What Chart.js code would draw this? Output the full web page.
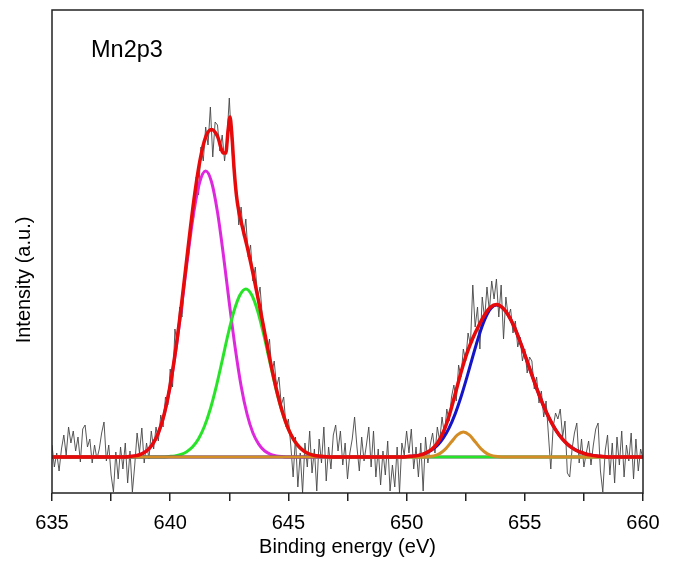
<!DOCTYPE html>
<html>
<head>
<meta charset="utf-8">
<script src="https://cdn.jsdelivr.net/npm/chart.js@4.4.1/dist/chart.umd.min.js"></script>
<style>
  body { margin: 0; background: #fff; }
  #grafico { display: block; }
</style>
</head>
<body>
<canvas id="grafico" width="675" height="563"></canvas>
<script>
/**
 * Datos del espectro XPS Mn2p3 (intensidad en unidades arbitrarias, linea base = 0)
 */

// Espectro medido: una lectura cada 0.1 eV desde 635 eV hasta 660 eV
const medidoInicio = 635;
const medidoPaso = 0.1;
const medidoI = [
  12, -10, 4, -14, 8, 22, 2, 30, 14, 26,
  6, 20, -5, 28, 32, 10, 18, -6, 12, -2,
  8, 24, 35, -4, 12, -18, -35, 5, -22, 10,
  -12, 14, -26, 6, -35, -8, 24, 4, 29, -6,
  14, -2, 26, 8, 30, 16, 42, 30, 60, 52,
  88, 70, 128, 112, 150, 140, 172, 190, 205, 230,
  240, 280, 262, 310, 296, 330, 312, 350, 300, 335,
  332, 306, 322, 296, 318, 359, 312, 280, 270, 232,
  250, 220, 238, 200, 212, 176, 190, 158, 170, 140,
  128, 104, 118, 84, 96, 70, 80, 52, 60, 30,
  38, 12, -20, 20, -30, 4, -36, 14, -10, 26,
  -16, 8, -34, 18, -6, 30, -24, 10, -12, 22,
  32, 6, 26, -8, 14, -22, 4, 18, 40, 10,
  -14, 20, -4, 12, 30, -10, 26, -20, 8, -28,
  6, -18, 16, -34, -8, -30, 10, -36, 14, 2,
  26, 4, 28, -12, 10, -20, 14, -34, 20, -6,
  12, 24, 4, 30, 16, 40, 22, 48, 36, 60,
  72, 56, 92, 80, 108, 96, 124, 112, 172, 130,
  150, 108, 160, 138, 170, 146, 176, 158, 178, 140,
  172, 118, 160, 140, 148, 124, 136, 110, 120, 96,
  108, 84, 100, 96, 68, 80, 54, 66, 40, 56,
  22, -12, 30, 44, 38, 48, 20, 36, -16, -20,
  8, 24, 34, -6, 18, -10, 4, 16, -8, 12,
  28, 34, -14, -35, 6, 22, -18, 14, -26, 20,
  -8, 26, -20, 12, -4, 24, -22, 18, -14, 8,
  -2
];

// Componente magenta (~641.5 eV)
const magentaE = [635, 638, 638.25, 638.5, 638.75, 639, 639.25, 639.5, 639.75, 640, 640.25, 640.5, 640.75, 641, 641.25, 641.5, 641.75, 642, 642.25, 642.5, 642.75, 643, 643.25, 643.5, 643.75, 644, 644.25, 644.5, 644.75, 645, 660];
const magentaI = [0, 0, 0.4, 1.1, 2.7, 6, 12.6, 24, 43, 71, 109, 154, 202, 245, 275, 286, 275, 245, 202, 154, 109, 71, 43, 24, 12.6, 6, 2.7, 1.1, 0.4, 0, 0];

// Componente verde (~643.2 eV)
const verdeE = [635, 639.7, 639.95, 640.2, 640.45, 640.7, 640.95, 641.2, 641.45, 641.7, 641.95, 642.2, 642.45, 642.7, 642.95, 643.2, 643.45, 643.7, 643.95, 644.2, 644.45, 644.7, 644.95, 645.2, 645.45, 645.7, 645.95, 646.2, 646.45, 646.7, 660];
const verdeI = [0, 0, 0.5, 1.1, 2.5, 5.3, 10.2, 18.3, 30.8, 48.3, 70.7, 96.5, 123, 146, 162, 168, 162, 146, 123, 96.5, 70.7, 48.3, 30.8, 18.3, 10.2, 5.3, 2.5, 1.1, 0.5, 0, 0];

// Componente azul (~653.8 eV)
const azulE = [635, 649.8, 650.05, 650.3, 650.55, 650.8, 651.05, 651.3, 651.55, 651.8, 652.05, 652.3, 652.55, 652.8, 653.05, 653.3, 653.55, 653.8, 654.05, 654.3, 654.55, 654.8, 655.05, 655.3, 655.55, 655.8, 656.05, 656.3, 656.55, 656.8, 657.05, 657.3, 657.55, 657.8, 658.05, 658.3, 658.55, 660];
const azulI = [0, 0, 0.5, 1.0, 1.9, 3.7, 6.7, 11.5, 18.8, 29.1, 42.9, 60.0, 79.7, 100.5, 120.5, 137.1, 148.1, 152, 149.4, 141.9, 130.3, 115.5, 99.0, 82.0, 65.6, 50.7, 37.9, 27.4, 19.1, 12.9, 8.4, 5.3, 3.2, 1.9, 1.1, 0.6, 0, 0];

// Componente naranja (~652.4 eV, satelite)
const naranjaE = [635, 650.65, 650.9, 651.15, 651.4, 651.65, 651.9, 652.15, 652.4, 652.65, 652.9, 653.15, 653.4, 653.65, 653.9, 654.15, 660];
const naranjaI = [0, 0, 0.3, 1.1, 3.4, 8.1, 15.2, 22.1, 25, 22.1, 15.2, 8.1, 3.4, 1.1, 0.3, 0, 0];

// Ajuste total (rojo)
const ajusteE = [635, 638, 638.25, 638.5, 638.75, 639, 639.25, 639.5, 639.75, 640, 640.25, 640.5, 640.75, 641, 641.25, 641.5, 641.75, 642, 642.25, 642.35, 642.45, 642.53, 642.6, 642.7, 642.8, 642.9, 643, 643.25, 643.5, 643.75, 644, 644.25, 644.5, 644.75, 645, 645.25, 645.5, 645.75, 646, 646.25, 646.5, 646.75, 647, 649.8, 650.05, 650.3, 650.55, 650.8, 651.05, 651.3, 651.55, 651.8, 652.05, 652.3, 652.55, 652.8, 653.05, 653.3, 653.55, 653.8, 654.05, 654.3, 654.55, 654.8, 655.05, 655.3, 655.55, 655.8, 656.05, 656.3, 656.55, 656.8, 657.05, 657.3, 657.55, 657.8, 658.05, 658.3, 658.55, 660];
const ajusteI = [0, 0, 0.4, 1.1, 2.7, 6, 12.6, 24.1, 43.2, 71.6, 110.4, 157, 208, 256.5, 295.4, 319.9, 327.4, 320.7, 303.9, 304, 327, 340, 325, 289, 262, 246, 235.3, 210.8, 183.8, 154.7, 123.8, 93.9, 67, 44.8, 27.9, 16.4, 9, 4.6, 2.2, 1, 0.4, 0.1, 0, 0, 0.5, 1.0, 1.9, 3.9, 7.4, 13.7, 24.7, 41.3, 62.5, 84.5, 103.6, 118.7, 131.2, 142.0, 149.9, 152.5, 149.5, 141.9, 130.3, 115.5, 99.0, 82.0, 65.6, 50.7, 37.9, 27.4, 19.1, 12.9, 8.4, 5.3, 3.2, 1.9, 1.1, 0.6, 0, 0];

// Ejes
const ejeXMin = 635;
const ejeXMax = 660;
const ejeYMin = -36;
const ejeYMax = 447;

const fuente = '"Liberation Sans", Arial, Helvetica, sans-serif';

function puntos(xs, ys) {
  return ys.map((y, i) => ({ x: xs[i], y: y }));
}

function puntosMedidos() {
  return medidoI.map((y, i) => ({ x: +(medidoInicio + i * medidoPaso).toFixed(2), y: y }));
}

function serie(etiqueta, datos, color, ancho, orden) {
  return {
    label: etiqueta,
    data: datos,
    showLine: true,
    borderColor: color,
    borderWidth: ancho,
    pointRadius: 0,
    fill: false,
    cubicInterpolationMode: "monotone",
    order: orden,
  };
}

/*Textos y marco del grafico*/
const decoracion = {
  id: "decoracion",
  afterDatasetsDraw(chart) {
    const { ctx, chartArea: a } = chart;
    ctx.save();
    ctx.strokeStyle = "#222";
    ctx.lineWidth = 1.5;
    ctx.strokeRect(a.left, a.top, a.right - a.left, a.bottom - a.top);

    ctx.fillStyle = "#000";
    ctx.textBaseline = "alphabetic";
    ctx.font = "23.5px " + fuente;
    ctx.fillText("Mn2p3", 91, 57);

    ctx.translate(30, 280);
    ctx.rotate(-Math.PI / 2);
    ctx.textAlign = "center";
    ctx.font = "20px " + fuente;
    ctx.fillText("Intensity (a.u.)", 0, 0);
    ctx.restore();
  },
};

const medido = serie("Medido", puntosMedidos(), "rgba(70,70,70,0.9)", 1, 10);
medido.cubicInterpolationMode = "default";
medido.tension = 0;

new Chart(document.getElementById("grafico"), {
  type: "scatter",
  data: {
    datasets: [
      medido,
      serie("Magenta", puntos(magentaE, magentaI), "rgb(222,40,222)", 3, 6),
      serie("Verde", puntos(verdeE, verdeI), "rgb(40,228,40)", 3, 5),
      serie("Azul", puntos(azulE, azulI), "rgb(20,20,200)", 3, 4),
      serie("Naranja", puntos(naranjaE, naranjaI), "rgb(212,140,36)", 3, 3),
      serie("Ajuste", puntos(ajusteE, ajusteI), "rgb(232,10,10)", 3.5, 1),
    ],
  },
  options: {
    responsive: false,
    animation: false,
    layout: { padding: { top: 10, right: 32, left: 0, bottom: 0 } },
    plugins: {
      legend: { display: false },
      tooltip: { enabled: false },
    },
    scales: {
      x: {
        type: "linear",
        min: ejeXMin,
        max: ejeXMax,
        ticks: {
          stepSize: 2.5,
          autoSkip: false,
          maxRotation: 0,
          padding: 10,
          color: "#000",
          font: { size: 20, family: fuente },
          callback: (v) => (v % 5 === 0 ? v : ""),
        },
        grid: {
          drawOnChartArea: false,
          drawTicks: true,
          tickLength: 8,
          color: "#222",
          lineWidth: 1.5,
        },
        border: { display: false },
        title: {
          display: true,
          text: "Binding energy (eV)",
          color: "#000",
          font: { size: 20, family: fuente },
          padding: { top: 0, bottom: 4 },
        },
        afterFit(escala) {
          escala.height = 70;
        },
      },
      y: {
        min: ejeYMin,
        max: ejeYMax,
        ticks: { display: false },
        grid: { display: false },
        border: { display: false },
        afterFit(escala) {
          escala.width = 52;
        },
      },
    },
  },
  plugins: [decoracion],
});
</script>
</body>
</html>
